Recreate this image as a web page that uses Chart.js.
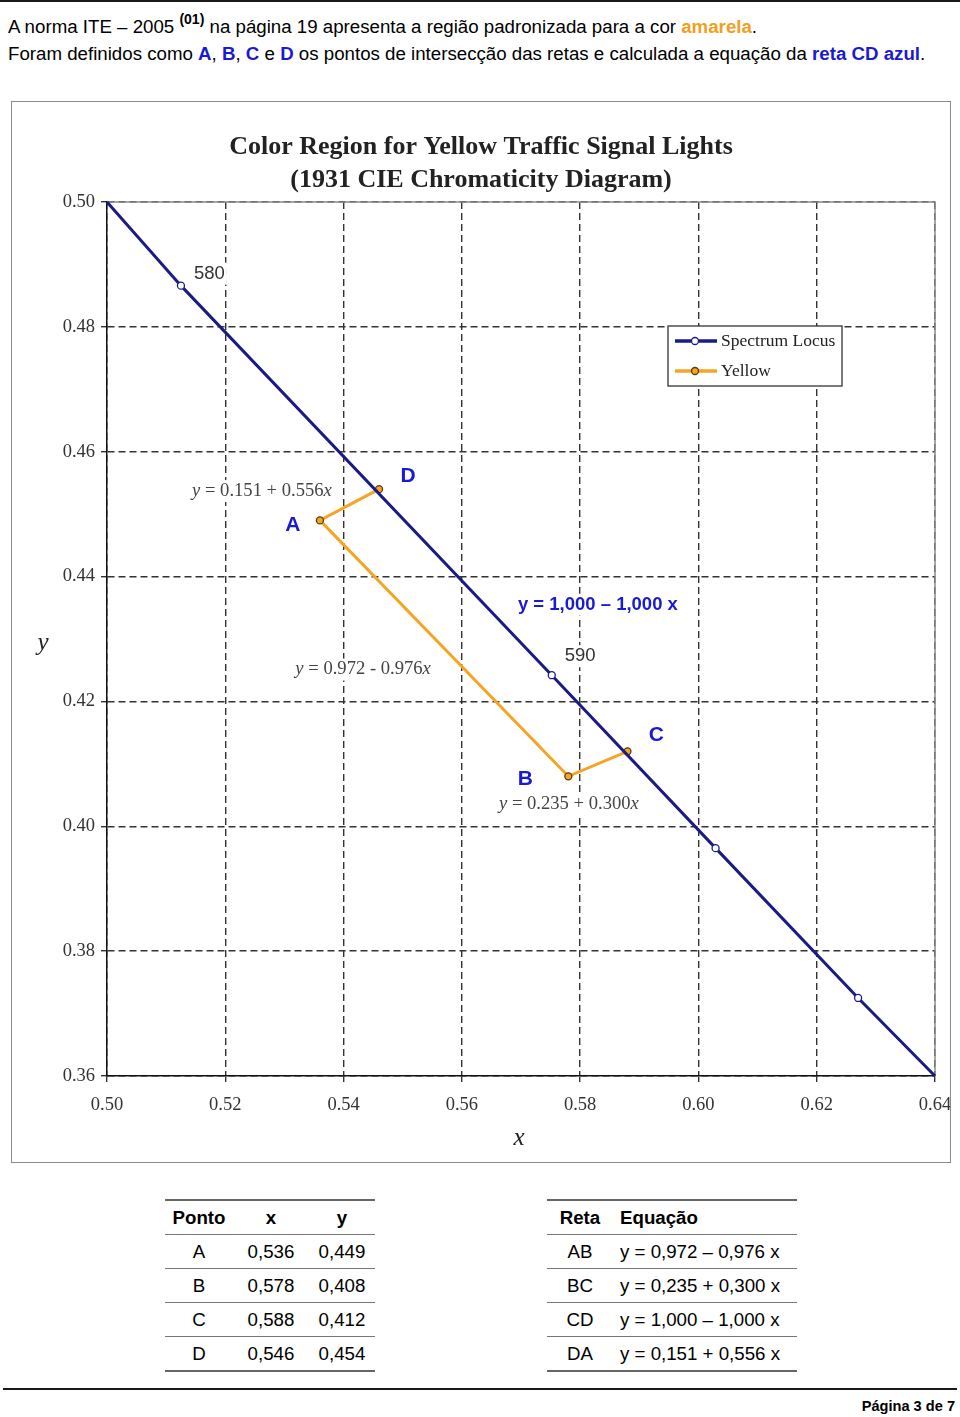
<!DOCTYPE html>
<html lang="pt-BR">
<head>
  <meta charset="UTF-8">
  <title>Região amarela - ITE 2005</title>
  <style>
    body {
      margin: 0;
      background: #fff;
      font-family: Arial, "Liberation Sans", sans-serif;
      color: #000;
    }
    .regua { position: absolute; background: #1a1a1a; }
    .texto {
      position: absolute;
      left: 8px;
      font-size: 18.7px;
      line-height: 22px;
      white-space: nowrap;
    }
    .laranja { color: #f0a020; font-weight: bold; }
    .azul { color: #1a1ad0; font-weight: bold; }
    .sup { font-size: 14px; font-weight: bold; position: relative; top: -9px; }
    .caixa {
      position: absolute;
      left: 11px;
      top: 101px;
      width: 938px;
      height: 1060px;
      border: 1px solid #8a8a8a;
    }
    table {
      position: absolute;
      top: 1199px;
      border-collapse: collapse;
      font-size: 18.7px;
      border-top: 2px solid #666;
      border-bottom: 2px solid #666;
    }
    th, td { padding: 0; height: 33px; }
    tr + tr td { border-top: 1px solid #777; }
    thead tr th { border-bottom: 1px solid #777; }
    .rodape {
      position: absolute;
      right: 5px;
      top: 1398px;
      font-size: 14.6px;
      font-weight: bold;
    }
  </style>
</head>
<body>
  <div class="regua" style="left:0;top:0;width:960px;height:2px"></div>
  <div class="texto" style="top:16px">A norma ITE – 2005 <span class="sup">(01)</span> na página 19 apresenta a região padronizada para a cor <span class="laranja">amarela</span>.</div>
  <div class="texto" style="top:43px">Foram definidos como <span class="azul">A</span>, <span class="azul">B</span>, <span class="azul">C</span> e <span class="azul">D</span> os pontos de intersecção das retas e calculada a equação da <span class="azul">reta CD azul</span>.</div>

  <div class="caixa"><canvas id="grafico" width="938" height="1060"></canvas></div>

  <table id="tabPontos" style="left:165px;width:210px">
    <thead><tr>
      <th style="width:68px">Ponto</th><th style="width:76px">x</th><th style="width:66px">y</th>
    </tr></thead>
    <tbody></tbody>
  </table>

  <table id="tabRetas" style="left:547px;width:250px">
    <thead><tr>
      <th style="width:66px">Reta</th><th style="text-align:left;padding-left:7px">Equação</th>
    </tr></thead>
    <tbody></tbody>
  </table>

  <div class="regua" style="left:3px;top:1388px;width:954px;height:2px"></div>
  <div class="rodape">Página 3 de 7</div>

  <script src="https://cdn.jsdelivr.net/npm/chart.js"></script>
  <script>
    // lugar espectral (CIE 1931) entre x = 0,50 e x = 0,64
    const locusX = [0.500, 0.5125, 0.5752, 0.6029, 0.6270, 0.640];
    const locusY = [0.500, 0.4866, 0.4242, 0.3965, 0.3725, 0.360];
    const comprimentos = ['', '580', '590', '', '', ''];

    // vértices da região amarela
    const pontos = ['A', 'B', 'C', 'D'];
    const pontosX = [0.536, 0.578, 0.588, 0.546];
    const pontosY = [0.449, 0.408, 0.412, 0.454];
    const ordemAmarela = ['D', 'A', 'B', 'C'];

    const retas = ['AB', 'BC', 'CD', 'DA'];
    const equacoes = ['y = 0,972 – 0,976 x', 'y = 0,235 + 0,300 x', 'y = 1,000 – 1,000 x', 'y = 0,151 + 0,556 x'];
    const rotulosGrafico = [
      ['0.972 - 0.976', 0.5433, 0.4251],
      ['0.235 + 0.300', 0.5781, 0.4036],
      null,
      ['0.151 + 0.556', 0.5262, 0.4537]
    ];

    const ticksX = [0.50, 0.52, 0.54, 0.56, 0.58, 0.60, 0.62, 0.64];
    const ticksY = [0.36, 0.38, 0.40, 0.42, 0.44, 0.46, 0.48, 0.50];

    const AZUL = '#1b1b85';
    const AMARELO = '#f5a524';
    const AZUL_TEXTO = '#1a1ad0';
    const SERIF = '"Liberation Serif", "Times New Roman", serif';

    // tabelas
    const tb1 = document.querySelector('#tabPontos tbody');
    pontos.forEach((p, i) => {
      const tr = tb1.insertRow();
      [p, pontosX[i].toFixed(3).replace('.', ','), pontosY[i].toFixed(3).replace('.', ',')].forEach(t => {
        const c = tr.insertCell();
        c.textContent = t;
        c.style.textAlign = 'center';
      });
    });
    const tb2 = document.querySelector('#tabRetas tbody');
    retas.forEach((r, i) => {
      const tr = tb2.insertRow();
      const c1 = tr.insertCell();
      c1.textContent = r;
      c1.style.textAlign = 'center';
      const c2 = tr.insertCell();
      c2.textContent = equacoes[i];
      c2.style.paddingLeft = '7px';
    });

    const caminho = ordemAmarela.map(n => {
      const i = pontos.indexOf(n);
      return { x: pontosX[i], y: pontosY[i] };
    });

    function equacaoTexto(ctx, x, y, meio) {
      const it = 'italic 18.6px ' + SERIF;
      const rg = '18.6px ' + SERIF;
      ctx.font = it; const w1 = ctx.measureText('y').width;
      ctx.font = rg; const w2 = ctx.measureText(' = ' + meio).width;
      ctx.font = it; const w3 = ctx.measureText('x').width;
      const tot = w1 + w2 + w3;
      let px = x - tot / 2;
      ctx.fillStyle = '#fff';
      ctx.fillRect(px - 4, y - 11, tot + 8, 22);
      ctx.fillStyle = '#444';
      ctx.textAlign = 'left';
      ctx.textBaseline = 'middle';
      ctx.font = it; ctx.fillText('y', px, y); px += w1;
      ctx.font = rg; ctx.fillText(' = ' + meio, px, y); px += w2;
      ctx.font = it; ctx.fillText('x', px, y);
    }

    const decoracao = {
      id: 'decoracao',
      beforeDatasetsDraw(chart) {
        const { ctx, chartArea: a } = chart;
        ctx.save();
        ctx.strokeStyle = '#8a8a8a';
        ctx.lineWidth = 1.5;
        ctx.setLineDash([]);
        ctx.beginPath();
        ctx.moveTo(a.left, a.top);
        ctx.lineTo(a.right, a.top);
        ctx.lineTo(a.right, a.bottom);
        ctx.stroke();

        const sx = chart.scales.x, sy = chart.scales.y;
        // rótulos das retas (com fundo branco sobre a grade)
        rotulosGrafico.forEach(r => {
          if (r) equacaoTexto(ctx, sx.getPixelForValue(r[1]), sy.getPixelForValue(r[2]), r[0]);
        });
        // comprimentos de onda
        ctx.font = '18.5px Arial, "Liberation Sans", sans-serif';
        ctx.textBaseline = 'middle';
        ctx.textAlign = 'left';
        comprimentos.forEach((c, i) => {
          if (!c) return;
          const px = sx.getPixelForValue(locusX[i]) + 13;
          const py = sy.getPixelForValue(locusY[i]) - (i === 1 ? 12 : 19);
          const w = ctx.measureText(c).width;
          ctx.fillStyle = '#fff';
          ctx.fillRect(px - 2, py - 11, w + 4, 22);
          ctx.fillStyle = '#333';
          ctx.fillText(c, px, py);
        });
        // equação da reta CD
        ctx.font = 'bold 18.5px Arial, "Liberation Sans", sans-serif';
        ctx.textAlign = 'center';
        const tcd = equacoes[2];
        const cx = sx.getPixelForValue(0.583), cy = sy.getPixelForValue(0.4355);
        const wcd = ctx.measureText(tcd).width;
        ctx.fillStyle = '#fff';
        ctx.fillRect(cx - wcd / 2 - 3, cy - 11, wcd + 6, 22);
        ctx.fillStyle = AZUL_TEXTO;
        ctx.fillText(tcd, cx, cy);
        ctx.restore();
      },
      afterDatasetsDraw(chart) {
        const { ctx } = chart;
        const sx = chart.scales.x, sy = chart.scales.y;
        ctx.save();
        // letras dos vértices
        const desloc = { A: [-27, 5], B: [-43, 3], C: [29, -16], D: [29, -13] };
        ctx.font = 'bold 21px Arial, "Liberation Sans", sans-serif';
        ctx.fillStyle = AZUL_TEXTO;
        ctx.textAlign = 'center';
        ctx.textBaseline = 'middle';
        pontos.forEach((p, i) => {
          const d = desloc[p];
          ctx.fillText(p, sx.getPixelForValue(pontosX[i]) + d[0], sy.getPixelForValue(pontosY[i]) + d[1]);
        });

        // título e nomes dos eixos
        ctx.fillStyle = '#222';
        ctx.font = 'bold 26px ' + SERIF;
        ctx.fillText('Color Region for Yellow Traffic Signal Lights', chart.width / 2, 45);
        ctx.fillText('(1931 CIE Chromaticity Diagram)', chart.width / 2, 78);
        ctx.font = 'italic 25px ' + SERIF;
        ctx.fillText('y', 31, 541);
        ctx.fillText('x', (chart.chartArea.left + chart.chartArea.right) / 2 - 2, 1036);

        // legenda
        const lx = 656, ly = 224;
        ctx.fillStyle = '#fff';
        ctx.fillRect(lx, ly, 174, 60);
        ctx.strokeStyle = '#222';
        ctx.lineWidth = 1.2;
        ctx.strokeRect(lx, ly, 174, 60);
        const itens = [['Spectrum Locus', AZUL, '#fff', AZUL], ['Yellow', AMARELO, AMARELO, '#5a3a10']];
        itens.forEach((it, k) => {
          const yy = ly + 15 + k * 30;
          ctx.strokeStyle = it[1];
          ctx.lineWidth = 3.5;
          ctx.beginPath();
          ctx.moveTo(lx + 7, yy);
          ctx.lineTo(lx + 49, yy);
          ctx.stroke();
          ctx.beginPath();
          ctx.arc(lx + 27, yy, 3.5, 0, Math.PI * 2);
          ctx.fillStyle = it[2];
          ctx.fill();
          ctx.lineWidth = 1.3;
          ctx.strokeStyle = it[3];
          ctx.stroke();
          ctx.fillStyle = '#222';
          ctx.font = '17.5px ' + SERIF;
          ctx.textAlign = 'left';
          ctx.fillText(it[0], lx + 53, yy);
        });
        ctx.restore();
      }
    };

    const ultimo = locusX.length - 1;
    new Chart(document.getElementById('grafico'), {
      type: 'scatter',
      data: {
        datasets: [
          {
            label: 'Spectrum Locus',
            data: locusX.map((x, i) => ({ x, y: locusY[i] })),
            showLine: true,
            borderColor: AZUL,
            borderWidth: 3,
            backgroundColor: '#fff',
            pointBorderColor: AZUL,
            pointBorderWidth: 1.3,
            pointRadius: c => (c.dataIndex === 0 || c.dataIndex === ultimo) ? 0 : 3.5,
            clip: false
          },
          {
            label: 'Yellow',
            data: caminho,
            showLine: true,
            borderColor: AMARELO,
            borderWidth: 3,
            backgroundColor: AMARELO,
            pointBorderColor: '#5a3a10',
            pointBorderWidth: 1.3,
            pointRadius: 3.5,
            clip: false
          }
        ]
      },
      options: {
        responsive: false,
        animation: false,
        events: [],
        layout: { padding: { left: 0, top: 100, right: 15, bottom: 0 } },
        plugins: { legend: { display: false }, tooltip: { enabled: false } },
        scales: {
          x: {
            type: 'linear',
            min: ticksX[0],
            max: ticksX[ticksX.length - 1],
            afterFit: s => { s.height = 86; s.paddingLeft = 0; s.paddingRight = 0; },
            afterBuildTicks: s => { s.ticks = ticksX.map(v => ({ value: v })); },
            ticks: {
              callback: v => v.toFixed(2),
              font: { family: SERIF, size: 18.5 },
              color: '#333',
              padding: 12,
              maxRotation: 0
            },
            grid: { color: '#333', lineWidth: 1.4, tickLength: 6 },
            border: { color: '#111', width: 1.5, dash: [7, 4] }
          },
          y: {
            type: 'linear',
            min: ticksY[0],
            max: ticksY[ticksY.length - 1],
            afterFit: s => { s.width = 95; s.paddingTop = 0; s.paddingBottom = 0; },
            afterBuildTicks: s => { s.ticks = ticksY.map(v => ({ value: v })); },
            ticks: {
              callback: v => v.toFixed(2),
              font: { family: SERIF, size: 18.5 },
              color: '#333',
              padding: 6
            },
            grid: { color: '#333', lineWidth: 1.4, tickLength: 6 },
            border: { color: '#111', width: 1.5, dash: [7, 4] }
          }
        }
      },
      plugins: [decoracao]
    });
  </script>
</body>
</html>
